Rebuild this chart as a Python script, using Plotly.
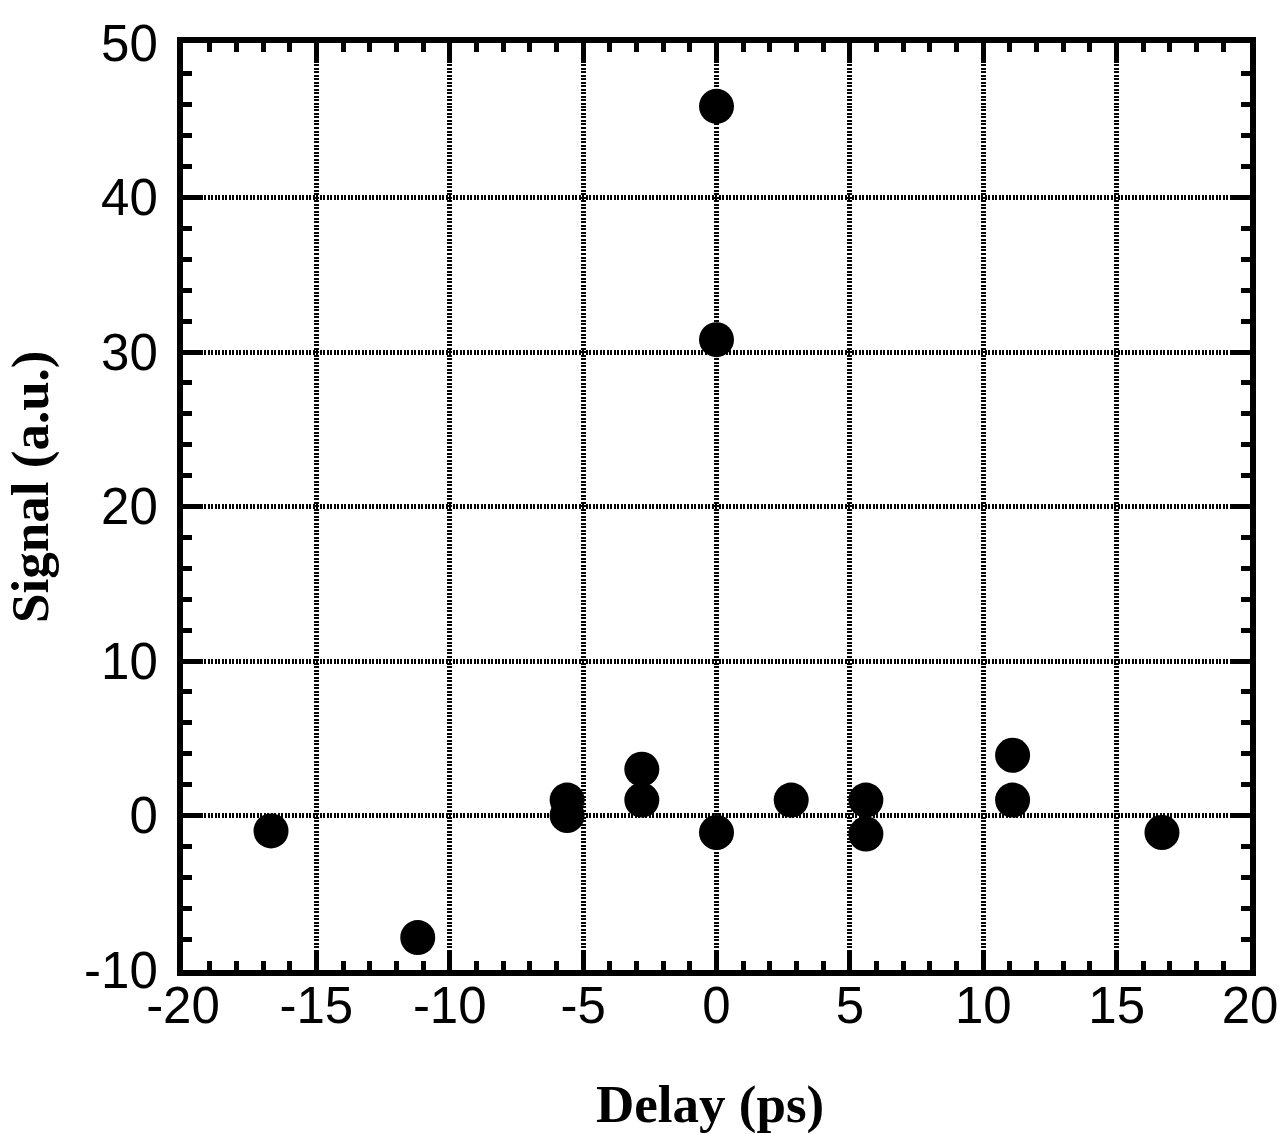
import plotly.graph_objects as go

# Measured signal versus pump-probe delay
delay_ps = [-16.7, -11.2, -5.6, -5.6, -2.8, -2.8, 0.0, 0.0, 0.0, 2.8, 5.6, 5.6, 11.1, 11.1, 16.7]
signal_au = [-1.0, -7.9, 1.0, 0.0, 3.0, 1.0, 45.9, 30.8, -1.1, 1.0, 1.0, -1.2, 3.9, 1.0, -1.1]

x_ticks = [-20, -15, -10, -5, 0, 5, 10, 15, 20]
y_ticks = [-10, 0, 10, 20, 30, 40, 50]

x_title = "Delay (ps)"
y_title = "Signal (a.u.)"

fig = go.Figure(
    go.Scatter(
        x=delay_ps,
        y=signal_au,
        mode="markers",
        marker=dict(size=35, color="black", line=dict(width=0)),
        showlegend=False,
    )
)

axis_common = dict(
    showline=True,
    linewidth=6,
    linecolor="black",
    mirror="allticks",
    ticks="inside",
    ticklen=18,
    tickwidth=5,
    tickcolor="black",
    showgrid=True,
    gridcolor="black",
    gridwidth=5,
    griddash="2px,1.5px",
    zeroline=False,
    tickfont=dict(family="Liberation Sans, Arial, sans-serif", size=51, color="black"),
    ticklabeloverflow="allow",
    automargin=False,
)

title_font = dict(family="Liberation Serif, Times New Roman, serif", size=53, color="black")

fig.update_xaxes(
    range=[-20, 20],
    tickvals=x_ticks,
    ticktext=[str(v) for v in x_ticks],
    minor=dict(dtick=1, ticks="inside", ticklen=9, tickwidth=5, tickcolor="black", showgrid=False),
    ticklabelstandoff=-14,
    **axis_common,
)
fig.update_yaxes(
    range=[-10, 50],
    tickvals=y_ticks,
    ticktext=[str(v) for v in y_ticks],
    minor=dict(dtick=2, ticks="inside", ticklen=9, tickwidth=5, tickcolor="black", showgrid=False),
    ticklabelstandoff=9,
    **axis_common,
)

# Axis titles placed as paper-anchored text
fig.add_annotation(
    text=f"<b>{x_title}</b>", xref="paper", yref="paper",
    x=0.494, y=-0.1456, xanchor="center", yanchor="middle",
    showarrow=False, font=title_font,
)
fig.add_annotation(
    text=f"<b>{y_title}</b>", xref="paper", yref="paper",
    x=-0.1435, y=0.521, xanchor="center", yanchor="middle",
    textangle=-90, showarrow=False, font=title_font,
)

fig.update_layout(
    width=1279,
    height=1134,
    margin=dict(l=183, r=29, t=43, b=164),
    paper_bgcolor="white",
    plot_bgcolor="white",
)

fig.write_html("out.html")
